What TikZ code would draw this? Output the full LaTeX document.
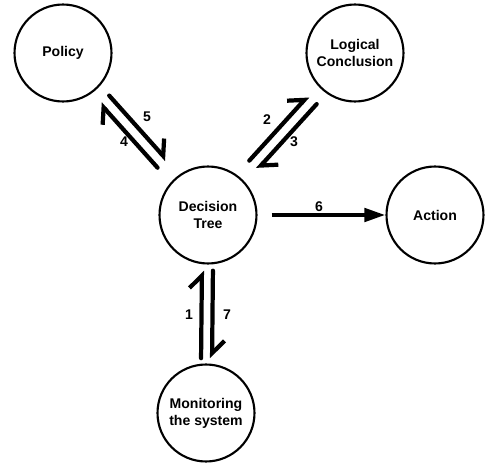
\documentclass[tikz,border=0pt]{standalone}
\usepackage{fontspec}
\setmainfont{Liberation Sans}
\usetikzlibrary{arrows.meta}

\tikzset{
  state/.style={circle, draw, line width=1.2pt, minimum size=1.94cm, inner sep=0pt,
    align=center, font=\fontsize{8}{9.6}\selectfont\bfseries},
  num/.style={font=\fontsize{8}{10}\selectfont\bfseries, inner sep=0pt},
  harp/.style={line width=2.4pt, line cap=round,
    -{Straight Barb[harpoon, length=7pt, width=14pt]}},
  flow/.style={line width=2.4pt, -{Triangle[length=12pt, width=7.5pt]}}
}

\begin{document}
\begin{tikzpicture}[x=0.02cm, y=0.02cm]
\useasboundingbox (0,0) rectangle (485,464);

% states
\node[state] (policy) at (63,411) {Policy};
\node[state] (logic) at (355,411) {Logical\\Conclusion};
\node[state] (tree) at (208,249) {Decision\\Tree};
\node[state] (action) at (435,249) {Action};
\node[state] (monitor) at (206,51) {Monitoring\\the system};

% policy and tree
\draw[harp, shorten <=11pt, shorten >=7.4pt, transform canvas={shift={(-4.5,-4)}}] (tree) -- (policy);
\draw[harp, shorten <=7.4pt, shorten >=11pt, transform canvas={shift={(4.5,4)}}] (policy) -- (tree);

% logic and tree
\draw[harp, shorten <=10.5pt, shorten >=8pt, transform canvas={shift={(-4.4,4)}}] (tree) -- (logic);
\draw[harp, shorten <=8pt, shorten >=10pt, transform canvas={shift={(4.4,-4)}}] (logic) -- (tree);

% monitor and tree
\draw[harp, shorten <=3pt, shorten >=3.5pt, transform canvas={shift={(-5.5,0)}}] (monitor) -- (tree);
\draw[harp, shorten <=3.5pt, shorten >=3pt, transform canvas={shift={(5.5,0)}}] (tree) -- (monitor);

% tree to action
\draw[flow, shorten <=8pt] (tree) -- (action);

% numbers
\node[num] (n1) at (189,149) {1};
\node[num] (n2) at (267,344) {2};
\node[num] (n3) at (294,322) {3};
\node[num] (n4) at (124,322) {4};
\node[num] (n5) at (147,347) {5};
\node[num] (n6) at (319,257) {6};
\node[num] (n7) at (227,149) {7};

\end{tikzpicture}
\end{document}
